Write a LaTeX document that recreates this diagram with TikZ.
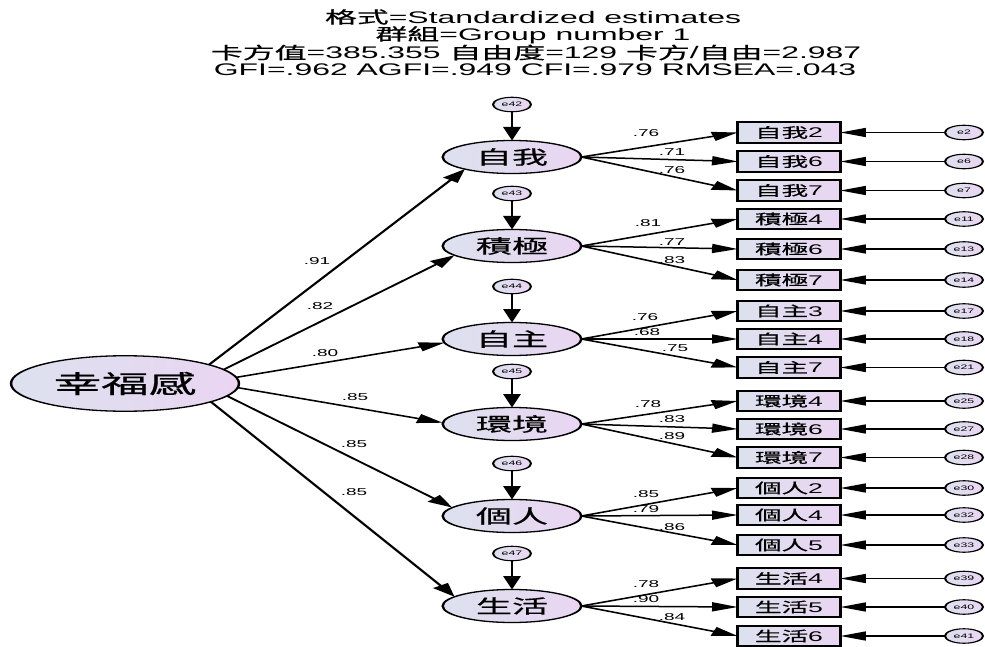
\documentclass[tikz,border=0pt]{standalone}
\usepackage{fontspec}
\setmainfont{Liberation Sans}
\newfontfamily\cjk[FakeBold=0.5]{Noto Sans CJK TC}
\usetikzlibrary{arrows.meta,shapes.geometric}
\definecolor{fl}{HTML}{DCE1EE}
\definecolor{fr}{HTML}{EAD5F2}
\tikzset{
  lat/.style={ellipse, draw, line width=1.3pt, left color=fl, right color=fr, inner sep=0pt, outer sep=0pt},
  bigv/.style={lat, minimum width=120pt, minimum height=55.5pt, font=\cjk\fontsize{25}{25}\selectfont},
  fac/.style={lat, minimum width=73pt, minimum height=33pt, font=\cjk\fontsize{19}{19}\selectfont},
  errv/.style={lat, line width=1.1pt, minimum width=20pt, minimum height=14.5pt, font=\fontsize{6.5}{6.5}\selectfont},
  obs/.style={rectangle, draw, line width=1.7pt, left color=fl, right color=fr, minimum width=54pt, minimum height=20.5pt, inner sep=0pt, outer sep=0pt, font=\fontsize{14}{14}\selectfont},
  arr/.style={-{Triangle[length=13.5pt,width=9pt]}, line width=1.5pt},
  lab/.style={font=\fontsize{10}{10}\selectfont, inner sep=0pt},
  ttl/.style={font=\fontsize{16.8}{18}\selectfont, inner sep=0pt},
}
\begin{document}
\begin{tikzpicture}[x=1pt,y=-1pt]
\useasboundingbox[fill=white] (0,0) rectangle (985,647);
\begin{scope}[transform canvas={xscale=1.9}, x=0.526316pt, y=-1pt]
% title
\node[ttl] (t1) at (533,17) {{\cjk 格式}=Standardized estimates};
\node[ttl] (t2) at (533,35) {{\cjk 群組}=Group number 1};
\node[ttl] (t3) at (536,52.5) {{\cjk 卡方值}=385.355 {\cjk 自由度}=129 {\cjk 卡方}/{\cjk 自由}=2.987};
\node[ttl] (t4) at (535,70) {GFI=.962 AGFI=.949 CFI=.979 RMSEA=.043};
% latent variables
\node[bigv] (H) at (125,383.5) {幸福感};
\node[fac] (F1) at (512,157) {自我};
\node[fac] (F2) at (512,246) {積極};
\node[fac] (F3) at (512,339) {自主};
\node[fac] (F4) at (512,424) {環境};
\node[fac] (F5) at (512,516) {個人};
\node[fac] (F6) at (512,606) {生活};
% disturbances
\node[errv] (d1) at (512,104.5) {e42};
\node[errv] (d2) at (512,193.5) {e43};
\node[errv] (d3) at (512,286.5) {e44};
\node[errv] (d4) at (512,371.5) {e45};
\node[errv] (d5) at (512,463.5) {e46};
\node[errv] (d6) at (512,553.5) {e47};
\foreach \i in {1,...,6} { \draw[arr] (d\i) -- (F\i); }
% structural paths
\draw[arr] (H.23.9) -- (F1.206.6);
\draw[arr] (H.15.7) -- (F2.197.8);
\draw[arr] (H.6.1) -- (F3.186.3);
\draw[arr] (H.-4.3) -- (F4.178.4);
\draw[arr] (H.-13.7) -- (F5.165.3);
\draw[arr] (H.-22.4) -- (F6.163.3);
\node[lab] (s1) at (317,261) {.91};
\node[lab] (s2) at (320,306) {.82};
\node[lab] (s3) at (325,353) {.80};
\node[lab] (s4) at (355,397) {.85};
\node[lab] (s5) at (354,444) {.85};
\node[lab] (s6) at (354,492) {.85};
% indicators
\foreach \i/\y/\t/\n/\e/\f in {
  1/132.5/自我/2/e2/1, 2/161.5/自我/6/e6/1, 3/190.5/自我/7/e7/1,
  4/219/積極/4/e11/2, 5/249/積極/6/e13/2, 6/280/積極/7/e14/2,
  7/311/自主/3/e17/3, 8/339/自主/4/e18/3, 9/367.5/自主/7/e21/3,
  10/401/環境/4/e25/4, 11/429/環境/6/e27/4, 12/457.5/環境/7/e28/4,
  13/488/個人/2/e30/5, 14/515/個人/4/e32/5, 15/545/個人/5/e33/5,
  16/578.5/生活/4/e39/6, 17/607/生活/5/e40/6, 18/636/生活/6/e41/6} {
  \node[obs] (b\i) at (789,\y) {{\cjk \t}\n};
  \node[errv] (r\i) at (964,\y) {\e};
  \draw[arr] (r\i) -- (b\i);
  \draw[arr] (F\f.east) -- (b\i.west);
}
% loadings
\foreach \i/\x/\y/\v in {
  1/646/133/.76, 2/672/152/.71, 3/672/170/.76,
  4/648/223/.81, 5/672/242/.77, 6/672/260/.83,
  7/645/317/.76, 8/647/332/.68, 9/675/348/.75,
  10/648/404/.78, 11/672/419/.83, 12/672/436/.89,
  13/646/494/.85, 14/646/509/.79, 15/672/527/.86,
  16/646/584/.78, 17/646/599/.90, 18/672/617/.84} {
  \node[lab] (l\i) at (\x,\y) {\v};
}
\end{scope}
\end{tikzpicture}
\end{document}
